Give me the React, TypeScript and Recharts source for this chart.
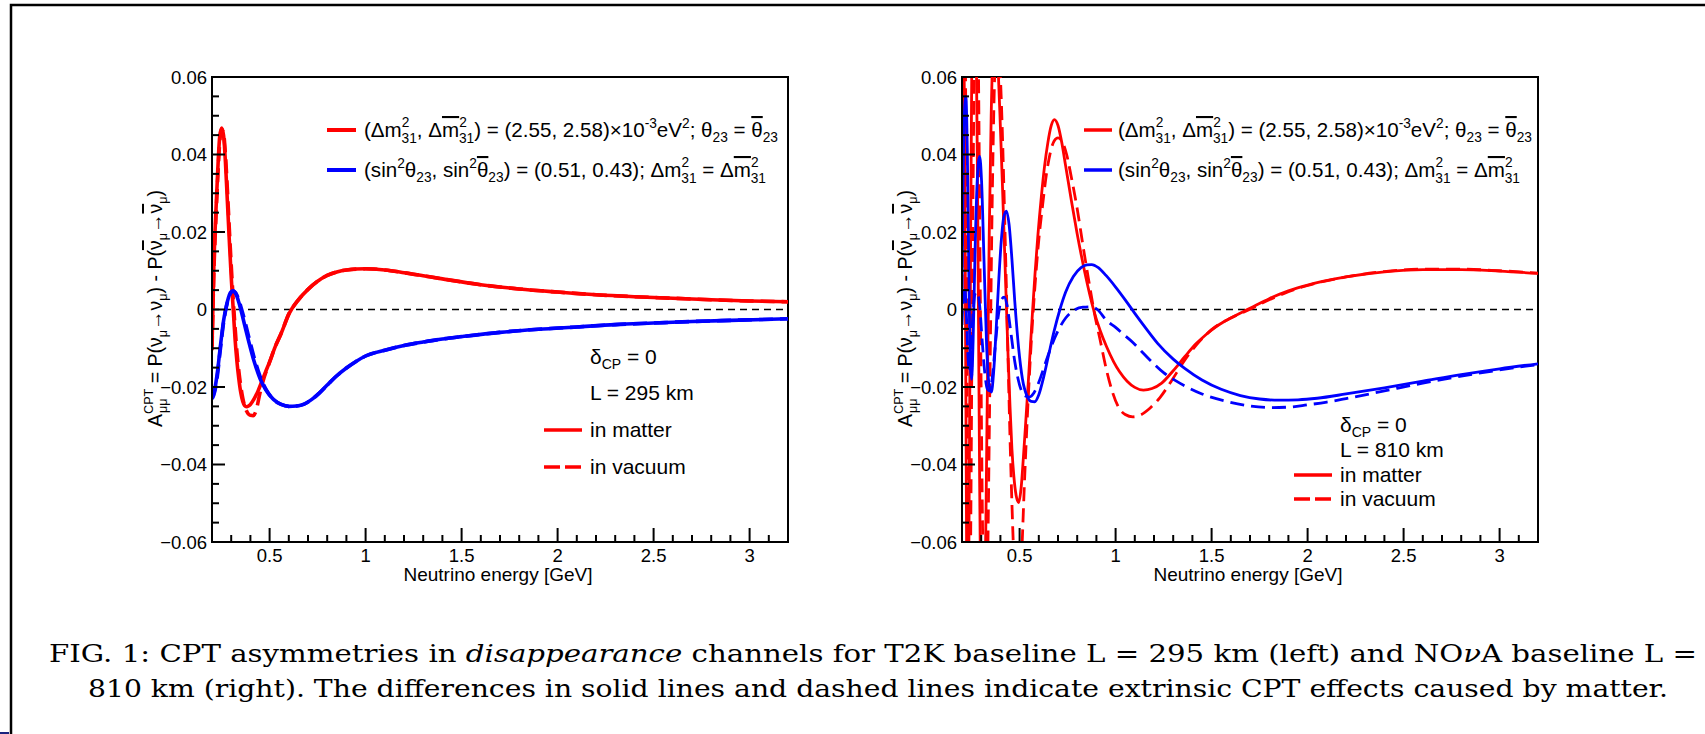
import React from 'react';
import { LineChart, Line, XAxis, YAxis, ReferenceLine, ReferenceArea } from 'recharts';

// ---------- axis ticks ----------
const xMajorTicks = [0.5, 1, 1.5, 2, 2.5, 3];
const xTickLabels = ['0.5', '1', '1.5', '2', '2.5', '3'];
const yMajorTicks = [-0.06, -0.04, -0.02, 0, 0.02, 0.04, 0.06];
const yTickLabels = ['\u22120.06', '\u22120.04', '\u22120.02', '0', '0.02', '0.04', '0.06'];
const xAllTicks: number[] = [];
for (let i = 3; i <= 32; i++) xAllTicks.push(i / 10);
const yAllTicks: number[] = [];
for (let i = -12; i <= 12; i++) yAllTicks.push(i * 0.005);

// ---------- L = 295 km (T2K) ----------
const t2kRedMatterE = [0.2, 0.21, 0.22, 0.23, 0.24, 0.25, 0.26, 0.27, 0.28, 0.29, 0.3, 0.31, 0.32, 0.33, 0.34, 0.35, 0.36, 0.37, 0.38, 0.39, 0.4, 0.42, 0.44, 0.46, 0.48, 0.5, 0.53, 0.56, 0.6, 0.65, 0.7, 0.75, 0.8, 0.85, 0.9, 1.0, 1.1, 1.2, 1.3, 1.4, 1.6, 1.8, 2.0, 2.2, 2.4, 2.6, 2.8, 3.0, 3.2];
const t2kRedMatterA = [-0.0095, 0.012, 0.025, 0.036, 0.0445, 0.0468, 0.045, 0.038, 0.028, 0.018, 0.0085, 0.0005, -0.0075, -0.0135, -0.018, -0.0215, -0.0237, -0.0248, -0.0251, -0.0249, -0.0245, -0.023, -0.021, -0.0185, -0.016, -0.0135, -0.0095, -0.0062, -0.0012, 0.0025, 0.0052, 0.0073, 0.0088, 0.0097, 0.0102, 0.0105, 0.0102, 0.0095, 0.0087, 0.0079, 0.0064, 0.0053, 0.0045, 0.0038, 0.0033, 0.0029, 0.0025, 0.0022, 0.002];
const t2kRedVacuumE = [0.2, 0.21, 0.22, 0.23, 0.24, 0.25, 0.26, 0.27, 0.28, 0.29, 0.3, 0.31, 0.32, 0.33, 0.34, 0.35, 0.36, 0.37, 0.38, 0.39, 0.4, 0.415, 0.43, 0.45, 0.47, 0.5, 0.53, 0.56, 0.6, 0.65, 0.7, 0.75, 0.8, 0.85, 0.9, 1.0, 1.1, 1.2, 1.3, 1.4, 1.6, 1.8, 2.0, 2.2, 2.4, 2.6, 2.8, 3.0, 3.2];
const t2kRedVacuumA = [-0.0105, 0.01, 0.023, 0.034, 0.043, 0.0465, 0.0455, 0.04, 0.031, 0.021, 0.0115, 0.003, -0.0045, -0.011, -0.016, -0.0198, -0.0228, -0.0249, -0.0262, -0.027, -0.0273, -0.0274, -0.026, -0.0215, -0.0178, -0.0136, -0.0095, -0.0062, -0.0012, 0.0025, 0.0052, 0.0073, 0.0088, 0.0097, 0.0102, 0.0105, 0.0102, 0.0095, 0.0087, 0.0079, 0.0064, 0.0053, 0.0045, 0.0038, 0.0033, 0.0029, 0.0025, 0.0022, 0.002];
const t2kBlueMatterE = [0.2, 0.21, 0.22, 0.23, 0.24, 0.25, 0.26, 0.27, 0.28, 0.29, 0.3, 0.31, 0.32, 0.33, 0.34, 0.35, 0.37, 0.39, 0.42, 0.45, 0.48, 0.52, 0.56, 0.6, 0.64, 0.68, 0.72, 0.76, 0.8, 0.85, 0.9, 0.95, 1.0, 1.1, 1.2, 1.3, 1.4, 1.5, 1.7, 1.9, 2.1, 2.3, 2.5, 2.7, 2.9, 3.2];
const t2kBlueMatterA = [-0.0225, -0.0215, -0.019, -0.0155, -0.011, -0.0068, -0.003, -0.0002, 0.002, 0.0037, 0.0046, 0.0048, 0.0044, 0.0034, 0.0018, 0.0, -0.004, -0.008, -0.0135, -0.0178, -0.0207, -0.0232, -0.0245, -0.025, -0.0249, -0.0244, -0.0232, -0.0215, -0.0195, -0.0171, -0.0151, -0.0134, -0.012, -0.0105, -0.0093, -0.0084, -0.0076, -0.007, -0.0059, -0.0051, -0.0045, -0.0039, -0.0035, -0.0031, -0.0028, -0.0024];
const t2kBlueVacuumE = [0.2, 0.21, 0.22, 0.23, 0.24, 0.25, 0.26, 0.27, 0.28, 0.29, 0.3, 0.31, 0.32, 0.33, 0.34, 0.35, 0.37, 0.39, 0.42, 0.45, 0.48, 0.52, 0.56, 0.6, 0.64, 0.68, 0.72, 0.76, 0.8, 0.85, 0.9, 0.95, 1.0, 1.1, 1.2, 1.3, 1.4, 1.5, 1.7, 1.9, 2.1, 2.3, 2.5, 2.7, 2.9, 3.2];
const t2kBlueVacuumA = [-0.023, -0.022, -0.0198, -0.0163, -0.0118, -0.0075, -0.0035, -0.0005, 0.0018, 0.0035, 0.0044, 0.0047, 0.0045, 0.0037, 0.0024, 0.0008, -0.0028, -0.0068, -0.0125, -0.0172, -0.0205, -0.0232, -0.0245, -0.025, -0.0249, -0.0244, -0.0232, -0.0215, -0.0195, -0.0171, -0.0151, -0.0134, -0.012, -0.0105, -0.0093, -0.0084, -0.0076, -0.007, -0.0059, -0.0051, -0.0045, -0.0039, -0.0035, -0.0031, -0.0028, -0.0024];

// ---------- L = 810 km (NOvA) ----------
const novaRedMatterE = [0.2, 0.206, 0.213, 0.22, 0.228, 0.236, 0.244, 0.252, 0.262, 0.272, 0.282, 0.292, 0.305, 0.318, 0.33, 0.342, 0.352, 0.36, 0.37, 0.38, 0.39, 0.4, 0.41, 0.42, 0.43, 0.44, 0.45, 0.46, 0.47, 0.482, 0.495, 0.508, 0.52, 0.532, 0.545, 0.557, 0.568, 0.58, 0.595, 0.613, 0.63, 0.647, 0.665, 0.681, 0.7, 0.72, 0.74, 0.77, 0.8, 0.84, 0.885, 0.92, 0.952, 0.99, 1.02, 1.06, 1.1, 1.145, 1.19, 1.24, 1.3, 1.36, 1.42, 1.47, 1.53, 1.6, 1.7, 1.8, 1.9, 2.0, 2.2, 2.4, 2.6, 2.8, 3.0, 3.2];
const novaRedMatterA = [0.03, 0.075, 0.05, -0.02, -0.085, -0.06, 0.01, 0.07, 0.095, 0.08, 0.025, -0.045, -0.095, -0.08, -0.03, 0.02, 0.05, 0.065, 0.07, 0.068, 0.06, 0.047, 0.033, 0.018, 0.003, -0.012, -0.025, -0.036, -0.043, -0.048, -0.0498, -0.046, -0.038, -0.029, -0.019, -0.009, 0.0, 0.009, 0.019, 0.029, 0.037, 0.043, 0.0475, 0.049, 0.0475, 0.043, 0.037, 0.028, 0.0195, 0.0095, 0.0, -0.0055, -0.0095, -0.0135, -0.016, -0.0185, -0.0201, -0.0208, -0.0204, -0.019, -0.0158, -0.0122, -0.0088, -0.0065, -0.0042, -0.0022, 0.0003, 0.0028, 0.0048, 0.0063, 0.0084, 0.0097, 0.0103, 0.0103, 0.0099, 0.0093];
const novaRedVacuumE = [0.2, 0.207, 0.214, 0.221, 0.229, 0.237, 0.245, 0.253, 0.263, 0.274, 0.285, 0.296, 0.308, 0.32, 0.332, 0.345, 0.358, 0.37, 0.38, 0.39, 0.4, 0.41, 0.42, 0.43, 0.44, 0.45, 0.46, 0.47, 0.482, 0.492, 0.502, 0.512, 0.525, 0.54, 0.56, 0.58, 0.6, 0.62, 0.64, 0.66, 0.68, 0.7, 0.72, 0.745, 0.77, 0.8, 0.83, 0.86, 0.89, 0.92, 0.952, 0.985, 1.015, 1.05, 1.09, 1.13, 1.18, 1.23, 1.29, 1.35, 1.42, 1.5, 1.6, 1.71, 1.8, 1.9, 2.0, 2.2, 2.4, 2.6, 2.8, 3.0, 3.2];
const novaRedVacuumA = [0.0, 0.065, 0.08, 0.04, -0.04, -0.09, -0.06, 0.0, 0.06, 0.09, 0.065, 0.0, -0.06, -0.09, -0.07, -0.02, 0.03, 0.06, 0.069, 0.068, 0.06, 0.046, 0.028, 0.008, -0.013, -0.033, -0.05, -0.064, -0.074, -0.077, -0.073, -0.062, -0.045, -0.028, -0.009, 0.006, 0.018, 0.027, 0.035, 0.0405, 0.0435, 0.0443, 0.0435, 0.04, 0.034, 0.026, 0.0165, 0.0075, -0.001, -0.008, -0.0155, -0.0215, -0.0252, -0.0271, -0.0277, -0.0272, -0.0254, -0.0228, -0.0185, -0.0138, -0.0092, -0.0052, -0.0022, 0.0003, 0.0025, 0.0046, 0.0062, 0.0084, 0.0098, 0.0104, 0.0104, 0.01, 0.0094];
const novaBlueMatterE = [0.2, 0.205, 0.212, 0.22, 0.228, 0.236, 0.244, 0.25, 0.258, 0.268, 0.28, 0.292, 0.302, 0.315, 0.328, 0.34, 0.353, 0.365, 0.378, 0.392, 0.405, 0.418, 0.432, 0.445, 0.46, 0.475, 0.495, 0.515, 0.54, 0.56, 0.579, 0.6, 0.625, 0.65, 0.68, 0.71, 0.74, 0.78, 0.82, 0.85, 0.875, 0.91, 0.95, 1.0, 1.05, 1.1, 1.16, 1.22, 1.3, 1.36, 1.45, 1.55, 1.65, 1.75, 1.85, 1.95, 2.05, 2.2, 2.4, 2.6, 2.8, 3.0, 3.2];
const novaBlueMatterA = [0.003, 0.03, 0.05, 0.055, 0.04, 0.008, -0.015, -0.018, -0.008, 0.015, 0.034, 0.0395, 0.033, 0.012, -0.009, -0.019, -0.0213, -0.016, -0.005, 0.008, 0.018, 0.024, 0.0254, 0.022, 0.013, 0.002, -0.01, -0.018, -0.0225, -0.0237, -0.0238, -0.022, -0.0175, -0.012, -0.0055, 0.0, 0.0045, 0.0085, 0.0108, 0.0115, 0.0116, 0.0108, 0.0088, 0.0058, 0.0025, -0.001, -0.005, -0.0088, -0.0128, -0.0152, -0.0182, -0.0206, -0.0222, -0.0231, -0.0234, -0.0233, -0.0229, -0.0218, -0.0202, -0.0185, -0.0168, -0.0153, -0.014];
const novaBlueVacuumE = [0.2, 0.207, 0.214, 0.222, 0.23, 0.238, 0.246, 0.256, 0.268, 0.28, 0.292, 0.305, 0.318, 0.332, 0.345, 0.358, 0.372, 0.388, 0.405, 0.42, 0.435, 0.452, 0.475, 0.5, 0.525, 0.55, 0.575, 0.6, 0.63, 0.66, 0.7, 0.74, 0.79, 0.83, 0.87, 0.905, 0.952, 1.0, 1.043, 1.09, 1.133, 1.18, 1.25, 1.31, 1.36, 1.45, 1.586, 1.7, 1.81, 1.9, 2.0, 2.1, 2.2, 2.4, 2.6, 2.8, 3.0, 3.2];
const novaBlueVacuumA = [-0.004, 0.004, 0.006, 0.0, -0.011, -0.016, -0.012, -0.002, 0.004, 0.0045, 0.001, -0.008, -0.016, -0.0205, -0.021, -0.0175, -0.01, -0.002, 0.0025, 0.0032, 0.001, -0.005, -0.0135, -0.0195, -0.0222, -0.0226, -0.0215, -0.0188, -0.0145, -0.0102, -0.0055, -0.0022, 0.0, 0.0006, 0.0007, 0.0, -0.0028, -0.0046, -0.0065, -0.0085, -0.0107, -0.0131, -0.0163, -0.0183, -0.0197, -0.0218, -0.0238, -0.0249, -0.0253, -0.0252, -0.0246, -0.0239, -0.023, -0.021, -0.019, -0.0172, -0.0156, -0.0142];

const zip = (es: number[], as: number[]) => es.map((e, i) => ({ e, a: as[i] }));

const RED = '#ff0000';
const BLUE = '#0000ff';
const SANS = '"Liberation Sans", Arial, Helvetica, sans-serif';
const SERIF = '"DejaVu Serif", "Liberation Serif", serif';

const isMajor = (v: number, list: number[]) => list.findIndex((m) => Math.abs(m - v) < 1e-7);

const XTick = (props: any) => {
  const { x, y, payload } = props;
  const idx = isMajor(payload.value, xMajorTicks);
  const len = idx >= 0 ? 14 : 7;
  return (
    <g>
      <line x1={x} x2={x} y1={y} y2={y - len} stroke="#000" strokeWidth={2} />
      {idx >= 0 && (
        <text x={x} y={y + 20} textAnchor="middle" fontFamily={SANS} fontSize={18.5} fill="#000">
          {xTickLabels[idx]}
        </text>
      )}
    </g>
  );
};

const YTick = (props: any) => {
  const { x, y, payload } = props;
  const idx = isMajor(payload.value, yMajorTicks);
  const len = idx >= 0 ? 13 : 7;
  return (
    <g>
      <line x1={x} x2={x + len} y1={y} y2={y} stroke="#000" strokeWidth={2} />
      {idx >= 0 && (
        <text x={x - 5} y={y + 6.5} textAnchor="end" fontFamily={SANS} fontSize={18.5} fill="#000">
          {yTickLabels[idx]}
        </text>
      )}
    </g>
  );
};

type Series = { data: { e: number; a: number }[]; color: string; dashed: boolean };

function Panel({ left, series, width }: { left: number; series: Series[]; width: number }) {
  return (
    <div style={{ position: 'absolute', left, top: 40, width: 700, height: 560 }}>
      <LineChart width={700} height={560} margin={{ top: 37, right: 42, left: 22, bottom: 28 }}>
        <XAxis
          type="number"
          dataKey="e"
          domain={[0.2, 3.2]}
          ticks={xAllTicks}
          interval={0}
          tick={XTick}
          tickLine={false}
          tickSize={0}
          tickMargin={0}
          axisLine={{ stroke: '#000', strokeWidth: 2 }}
          height={30}
          allowDataOverflow
        />
        <YAxis
          type="number"
          domain={[-0.06, 0.06]}
          ticks={yAllTicks}
          interval={0}
          tick={YTick}
          tickLine={false}
          tickSize={0}
          tickMargin={0}
          axisLine={{ stroke: '#000', strokeWidth: 2 }}
          width={60}
          allowDataOverflow
        />
        <ReferenceLine y={0} stroke="#000" strokeDasharray="7 5" strokeWidth={1.6} />
        {series.map((s, i) => (
          <Line
            key={i}
            data={s.data}
            dataKey="a"
            type="monotone"
            stroke={s.color}
            strokeWidth={width}
            strokeDasharray={s.dashed ? '14 7' : undefined}
            dot={false}
            activeDot={false}
            isAnimationActive={false}
          />
        ))}
        <ReferenceArea x1={0.2} x2={3.2} y1={-0.06} y2={0.06} fill="none" fillOpacity={0} stroke="#000" strokeWidth={2} />
      </LineChart>
    </div>
  );
}

const SUP = 14;
const OVER = { textDecoration: 'overline' } as React.CSSProperties;

function LegendRow1({ x, y }: { x: number; y: number }) {
  return (
    <text x={x} y={y} fontFamily={SANS} fontSize={21} fill="#000" textLength={414} lengthAdjust="spacingAndGlyphs">
      <tspan>{'(\u0394m'}</tspan>
      <tspan dy={-10} fontSize={SUP}>2</tspan>
      <tspan dx={-8} dy={16} fontSize={SUP}>31</tspan>
      <tspan dy={-6}>{', \u0394'}</tspan>
      <tspan style={OVER}>m</tspan>
      <tspan dy={-10} fontSize={SUP}>2</tspan>
      <tspan dx={-8} dy={16} fontSize={SUP}>31</tspan>
      <tspan dy={-6}>{') = (2.55, 2.58)\u00d710'}</tspan>
      <tspan dy={-9} fontSize={SUP}>-3</tspan>
      <tspan dy={9}>eV</tspan>
      <tspan dy={-9} fontSize={SUP}>2</tspan>
      <tspan dy={9}>{'; \u03b8'}</tspan>
      <tspan dy={5} fontSize={SUP}>23</tspan>
      <tspan dy={-5}>{' = '}</tspan>
      <tspan style={OVER}>{'\u03b8'}</tspan>
      <tspan dy={5} fontSize={SUP}>23</tspan>
    </text>
  );
}

function LegendRow2({ x, y }: { x: number; y: number }) {
  return (
    <text x={x} y={y} fontFamily={SANS} fontSize={21} fill="#000" textLength={402} lengthAdjust="spacingAndGlyphs">
      <tspan>{'(sin'}</tspan>
      <tspan dy={-9} fontSize={SUP}>2</tspan>
      <tspan dy={9}>{'\u03b8'}</tspan>
      <tspan dy={5} fontSize={SUP}>23</tspan>
      <tspan dy={-5}>{', sin'}</tspan>
      <tspan dy={-9} fontSize={SUP}>2</tspan>
      <tspan dy={9} style={OVER}>{'\u03b8'}</tspan>
      <tspan dy={5} fontSize={SUP}>23</tspan>
      <tspan dy={-5}>{') = (0.51, 0.43); \u0394m'}</tspan>
      <tspan dy={-10} fontSize={SUP}>2</tspan>
      <tspan dx={-8} dy={16} fontSize={SUP}>31</tspan>
      <tspan dy={-6}>{' = \u0394'}</tspan>
      <tspan style={OVER}>m</tspan>
      <tspan dy={-10} fontSize={SUP}>2</tspan>
      <tspan dx={-8} dy={16} fontSize={SUP}>31</tspan>
    </text>
  );
}

function YTitle({ cx, cy }: { cx: number; cy: number }) {
  return (
    <text
      transform={`translate(${cx},${cy}) rotate(-90)`}
      x={-118}
      y={0}
      fontFamily={SANS}
      fontSize={20}
      fill="#000"
      textLength={237}
      lengthAdjust="spacingAndGlyphs"
    >
      <tspan>A</tspan>
      <tspan dy={-9} fontSize={13}>CPT</tspan>
      <tspan dx={-25} dy={14} fontSize={13}>{'\u03bc\u03bc'}</tspan>
      <tspan dx={10} dy={-5}>{' = P(\u03bd'}</tspan>
      <tspan dy={5} fontSize={13}>{'\u03bc'}</tspan>
      <tspan dy={-5}>{'\u2192\u03bd'}</tspan>
      <tspan dy={5} fontSize={13}>{'\u03bc'}</tspan>
      <tspan dy={-5}>{') - P('}</tspan>
      <tspan style={OVER}>{'\u03bd'}</tspan>
      <tspan dy={5} fontSize={13}>{'\u03bc'}</tspan>
      <tspan dy={-5}>{'\u2192'}</tspan>
      <tspan style={OVER}>{'\u03bd'}</tspan>
      <tspan dy={5} fontSize={13}>{'\u03bc'}</tspan>
      <tspan dy={-5}>)</tspan>
    </text>
  );
}

function InfoBlock({ x, ys, baseline }: { x: number; ys: number[]; baseline: string }) {
  return (
    <g fontFamily={SANS} fontSize={21} fill="#000">
      <text x={x} y={ys[0]}>
        <tspan>{'\u03b4'}</tspan>
        <tspan dy={5} fontSize={SUP}>CP</tspan>
        <tspan dy={-5}>{' = 0'}</tspan>
      </text>
      <text x={x} y={ys[1]}>{baseline}</text>
      <line x1={x - 46} x2={x - 8} y1={ys[2] - 7} y2={ys[2] - 7} stroke={RED} strokeWidth={3.5} />
      <text x={x} y={ys[2]}>in matter</text>
      <line x1={x - 46} x2={x - 8} y1={ys[3] - 7} y2={ys[3] - 7} stroke={RED} strokeWidth={3.5} strokeDasharray="16 5" />
      <text x={x} y={ys[3]}>in vacuum</text>
    </g>
  );
}

export default function App() {
  const leftSeries: Series[] = [
    { data: zip(t2kRedMatterE, t2kRedMatterA), color: RED, dashed: false },
    { data: zip(t2kRedVacuumE, t2kRedVacuumA), color: RED, dashed: true },
    { data: zip(t2kBlueMatterE, t2kBlueMatterA), color: BLUE, dashed: false },
    { data: zip(t2kBlueVacuumE, t2kBlueVacuumA), color: BLUE, dashed: true },
  ];
  const rightSeries: Series[] = [
    { data: zip(novaRedMatterE, novaRedMatterA), color: RED, dashed: false },
    { data: zip(novaRedVacuumE, novaRedVacuumA), color: RED, dashed: true },
    { data: zip(novaBlueMatterE, novaBlueMatterA), color: BLUE, dashed: false },
    { data: zip(novaBlueVacuumE, novaBlueVacuumA), color: BLUE, dashed: true },
  ];
  return (
    <div style={{ position: 'absolute', left: 0, top: 0, width: 1705, height: 734, background: '#fff', overflow: 'hidden' }}>
      <Panel left={130} series={leftSeries} width={3.6} />
      <Panel left={880} series={rightSeries} width={2.8} />
      <svg width={1705} height={734} style={{ position: 'absolute', left: 0, top: 0, pointerEvents: 'none' }}>
        <path d="M11 740 V5 H1710" stroke="#000" strokeWidth={2.5} fill="none" />
        <line x1={0} x2={9} y1={733} y2={733} stroke="#1a237e" strokeWidth={2} />

        {/* left panel legend */}
        <line x1={327} x2={356} y1={130} y2={130} stroke={RED} strokeWidth={4} />
        <LegendRow1 x={364} y={137} />
        <line x1={327} x2={356} y1={170} y2={170} stroke={BLUE} strokeWidth={4} />
        <LegendRow2 x={364} y={177} />
        <InfoBlock x={590} ys={[364, 400, 437, 474]} baseline="L = 295 km" />
        <YTitle cx={162} cy={309} />
        <text x={498} y={581} textAnchor="middle" fontFamily={SANS} fontSize={19} fill="#000">
          Neutrino energy [GeV]
        </text>

        {/* right panel legend */}
        <line x1={1084} x2={1112} y1={130} y2={130} stroke={RED} strokeWidth={3.5} />
        <LegendRow1 x={1118} y={137} />
        <line x1={1084} x2={1112} y1={170} y2={170} stroke={BLUE} strokeWidth={3.5} />
        <LegendRow2 x={1118} y={177} />
        <InfoBlock x={1340} ys={[432, 457, 482, 506]} baseline="L = 810 km" />
        <YTitle cx={912} cy={309} />
        <text x={1248} y={581} textAnchor="middle" fontFamily={SANS} fontSize={19} fill="#000">
          Neutrino energy [GeV]
        </text>

        {/* caption */}
        <text x={49} y={662} fontFamily={SERIF} fontSize={25} fill="#000" textLength={1648} lengthAdjust="spacingAndGlyphs">
          <tspan>{'FIG. 1:  CPT asymmetries in '}</tspan>
          <tspan fontStyle="italic">disappearance</tspan>
          <tspan>{' channels for T2K baseline L = 295 km (left) and NO'}</tspan>
          <tspan fontStyle="italic">{'\u03bd'}</tspan>
          <tspan>{'A baseline L ='}</tspan>
        </text>
        <text x={88} y={697} fontFamily={SERIF} fontSize={25} fill="#000" textLength={1580} lengthAdjust="spacingAndGlyphs">
          810 km (right). The differences in solid lines and dashed lines indicate extrinsic CPT effects caused by matter.
        </text>
      </svg>
    </div>
  );
}
